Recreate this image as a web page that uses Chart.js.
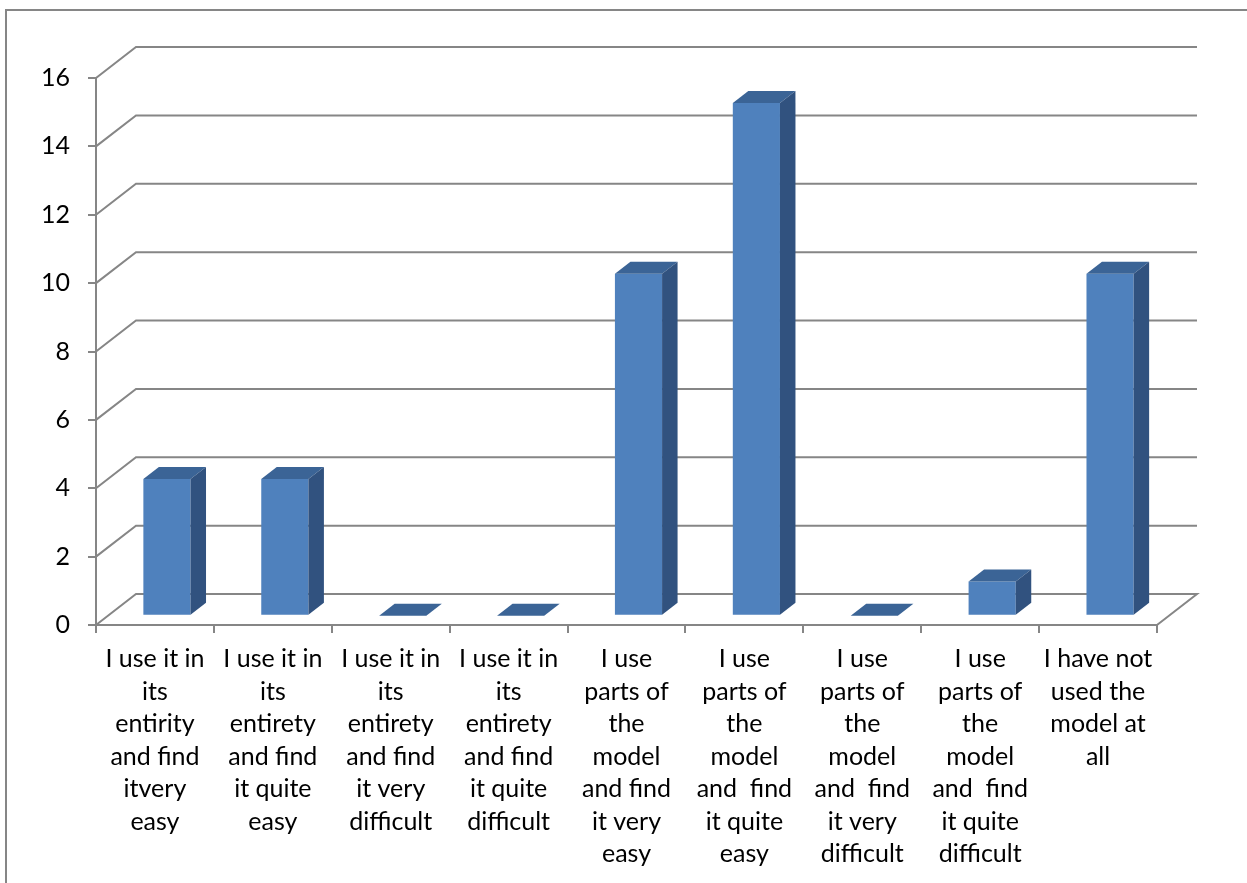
<!DOCTYPE html>
<html>
<head>
<meta charset="utf-8">
<script src="https://cdn.jsdelivr.net/npm/chart.js@4.4.1/dist/chart.umd.min.js"></script>
<style>
  html, body { margin: 0; padding: 0; background: #ffffff; }
  #wrap { width: 1247px; height: 883px; position: relative; }
</style>
</head>
<body>
<div id="wrap"><canvas id="chart" width="1247" height="883"></canvas></div>
<script>
// Survey answers: how the model is used and how easy it is to use
const categories = [
  ['I use it in', 'its', 'entirity', 'and find', 'itvery', 'easy'],
  ['I use it in', 'its', 'entirety', 'and find', 'it quite', 'easy'],
  ['I use it in', 'its', 'entirety', 'and find', 'it very', 'difficult'],
  ['I use it in', 'its', 'entirety', 'and find', 'it quite', 'difficult'],
  ['I use', 'parts of', 'the', 'model', 'and find', 'it very', 'easy'],
  ['I use', 'parts of', 'the', 'model', 'and  find', 'it quite', 'easy'],
  ['I use', 'parts of', 'the', 'model', 'and  find', 'it very', 'difficult'],
  ['I use', 'parts of', 'the', 'model', 'and  find', 'it quite', 'difficult'],
  ['I have not', 'used the', 'model at', 'all']
];
const responses = [4, 4, 0, 0, 10, 15, 0, 1, 10];
const yMin = 0;
const yMax = 16;
const yStep = 2;

// 3D look: wall depth and bar placement inside it (pixels)
const WALL_DX = 40, WALL_DY = 31;
const BAR_SHIFT_X = 12, BAR_SHIFT_Y = 9.3;
const BAR_DEPTH_X = 15.5, BAR_DEPTH_Y = 12;
const LINE_GREY = '#868686';
const FRONT = '#4F81BD', TOP = '#3B6496', SIDE = '#31527F';
const FONT = 'Lato, "Noto Sans", sans-serif';

const frame3d = {
  id: 'frame3d',
  beforeDraw(chart) {
    const ctx = chart.ctx;
    ctx.save();
    ctx.strokeStyle = LINE_GREY;
    ctx.lineWidth = 2;
    ctx.beginPath();
    ctx.moveTo(6, 883);
    ctx.lineTo(6, 10);
    ctx.lineTo(1247, 10);
    ctx.stroke();
    ctx.restore();
  },
  beforeDatasetsDraw(chart) {
    const ctx = chart.ctx;
    const y = chart.scales.y;
    const a = chart.chartArea;
    ctx.save();
    ctx.strokeStyle = LINE_GREY;
    ctx.lineWidth = 2;
    ctx.lineJoin = 'miter';
    y.ticks.forEach(t => {
      const py = y.getPixelForValue(t.value);
      ctx.beginPath();
      ctx.moveTo(a.left, py);
      ctx.lineTo(a.left + WALL_DX, py - WALL_DY);
      ctx.lineTo(a.right + WALL_DX, py - WALL_DY);
      if (t.value === yMin) {
        ctx.lineTo(a.right, py);
      }
      ctx.stroke();
    });
    ctx.restore();
    // bars sit partway into the floor
    ctx.save();
    ctx.translate(BAR_SHIFT_X, -BAR_SHIFT_Y);
  },
  afterDatasetsDraw(chart) {
    const ctx = chart.ctx;
    ctx.restore();
    const meta = chart.getDatasetMeta(0);
    ctx.save();
    meta.data.forEach(bar => {
      const p = bar.getProps(['x', 'y', 'base', 'width'], true);
      const L = p.x - p.width / 2 + BAR_SHIFT_X;
      const R = p.x + p.width / 2 + BAR_SHIFT_X;
      const T = p.y - BAR_SHIFT_Y;
      const B = p.base - BAR_SHIFT_Y;
      // top face
      ctx.fillStyle = TOP;
      ctx.beginPath();
      ctx.moveTo(L, T);
      ctx.lineTo(R, T);
      ctx.lineTo(R + BAR_DEPTH_X, T - BAR_DEPTH_Y);
      ctx.lineTo(L + BAR_DEPTH_X, T - BAR_DEPTH_Y);
      ctx.closePath();
      ctx.fill();
      // side face
      if (B - T > 0.5) {
        ctx.fillStyle = SIDE;
        ctx.beginPath();
        ctx.moveTo(R, T);
        ctx.lineTo(R + BAR_DEPTH_X, T - BAR_DEPTH_Y);
        ctx.lineTo(R + BAR_DEPTH_X, B - BAR_DEPTH_Y);
        ctx.lineTo(R, B);
        ctx.closePath();
        ctx.fill();
      }
    });
    ctx.restore();
  }
};

new Chart(document.getElementById('chart'), {
  type: 'bar',
  data: {
    labels: categories,
    datasets: [{
      data: responses,
      backgroundColor: FRONT,
      borderWidth: 0,
      categoryPercentage: 1,
      barPercentage: 0.4,
      clip: false
    }]
  },
  options: {
    responsive: false,
    animation: false,
    events: [],
    layout: { padding: { left: 6, top: 78, right: 90, bottom: 0 } },
    plugins: { legend: { display: false }, tooltip: { enabled: false } },
    scales: {
      x: {
        afterFit(s) { s.height = 258; },
        border: { display: true, color: LINE_GREY, width: 2 },
        grid: { offset: true, drawOnChartArea: false, drawTicks: true, tickLength: 8, color: LINE_GREY, lineWidth: 2 },
        ticks: {
          autoSkip: false, maxRotation: 0, minRotation: 0, padding: 10,
          color: '#000000',
          font: { family: FONT, size: 25, lineHeight: 1.3 }
        }
      },
      y: {
        min: yMin,
        max: yMax,
        afterFit(s) { s.width = 90; },
        border: { display: true, color: LINE_GREY, width: 2 },
        grid: { drawOnChartArea: false, drawTicks: true, tickLength: 8, color: LINE_GREY, lineWidth: 2 },
        ticks: {
          stepSize: yStep, padding: 18,
          color: '#000000',
          font: { family: FONT, size: 25 }
        }
      }
    }
  },
  plugins: [frame3d]
});
</script>
</body>
</html>
